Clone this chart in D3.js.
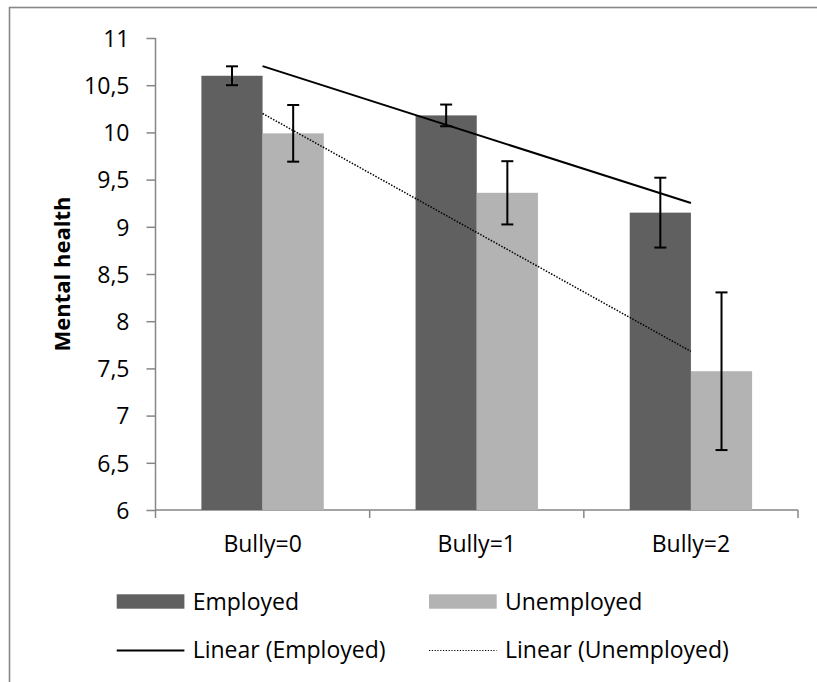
<!DOCTYPE html>
<html>
<head>
<meta charset="utf-8">
<script src="https://cdn.jsdelivr.net/npm/d3@7"></script>
<style>
  html, body { margin: 0; padding: 0; background: #fff; }
  svg { display: block; font-family: "Open Sans", "Noto Sans", sans-serif; }
</style>
</head>
<body>
<svg id="chart" width="817" height="682"></svg>
<script>
// ---- data ----
const categories = ["Bully=0", "Bully=1", "Bully=2"];
const seriesNames = ["Employed", "Unemployed"];
const employed = [10.60, 10.18, 9.15];
const unemployed = [9.99, 9.36, 7.47];
const errEmployed = [0.10, 0.115, 0.37];
const errUnemployed = [0.30, 0.335, 0.835];
const yTicks = [6, 6.5, 7, 7.5, 8, 8.5, 9, 9.5, 10, 10.5, 11];
const yTitle = "Mental health";
const trendNames = ["Linear (Employed)", "Linear (Unemployed)"];

(function () {
const colors = { Employed: "#606060", Unemployed: "#b3b3b3" };
const axisColor = "#868686";

const svg = d3.select("#chart");

// outer frame
svg.append("rect")
  .attr("x", 9.5).attr("y", 7.5)
  .attr("width", 1000).attr("height", 1000)
  .attr("fill", "none").attr("stroke", "#888").attr("stroke-width", 1.6);

const pL = 155.5, pR = 798, pT = 38, pB = 510;

const x = d3.scaleBand().domain(categories).range([pL, pR]).padding(0);
const xs = d3.scaleBand().domain(seriesNames).range([0, x.bandwidth()])
  .paddingInner(0).paddingOuter(0.75);
const y = d3.scaleLinear().domain([6, 11]).range([pB, pT]);

const fmt = d => Number.isInteger(d) ? String(d) : String(d).replace(".", ",");

// y axis
const yAxis = svg.append("g")
  .attr("transform", `translate(${pL},0)`)
  .call(d3.axisLeft(y).tickValues(yTicks).tickSize(9).tickPadding(17).tickFormat(fmt));
yAxis.select(".domain").attr("stroke", axisColor).attr("stroke-width", 1.5)
  .attr("d", `M0,${pT}V${pB}`);
yAxis.selectAll(".tick line").attr("stroke", axisColor).attr("stroke-width", 1.5);
yAxis.selectAll(".tick text").attr("font-size", 23).attr("fill", "#000")
  .attr("font-family", "'Open Sans', sans-serif").attr("dy", "0.36em");

// x axis
const xAxis = svg.append("g")
  .attr("transform", `translate(0,${pB})`)
  .call(d3.axisBottom(x).tickSize(0).tickPadding(26));
xAxis.select(".domain").attr("stroke", axisColor).attr("stroke-width", 1.5)
  .attr("d", `M${pL},0H${pR}`);
xAxis.selectAll(".tick text").attr("font-size", 23).attr("fill", "#000")
  .attr("font-family", "'Open Sans', sans-serif").attr("dy", "0.71em");
const boundaries = categories.map(c => x(c)).concat([x(categories[categories.length - 1]) + x.bandwidth()]);
xAxis.selectAll(".bnd").data(boundaries).enter().append("line")
  .attr("class", "bnd")
  .attr("x1", d => d).attr("x2", d => d)
  .attr("y1", 0).attr("y2", 8)
  .attr("stroke", axisColor).attr("stroke-width", 1.5);

// bars
const seriesData = [
  { name: "Employed", values: employed, errs: errEmployed },
  { name: "Unemployed", values: unemployed, errs: errUnemployed }
];

const gBars = svg.append("g");
seriesData.forEach(s => {
  gBars.selectAll(null).data(categories).enter().append("rect")
    .attr("x", c => x(c) + xs(s.name))
    .attr("width", xs.bandwidth())
    .attr("y", (c, i) => y(s.values[i]))
    .attr("height", (c, i) => pB - y(s.values[i]))
    .attr("fill", colors[s.name]);
});

// trend lines (least squares over category index 1..n)
function linFit(vals) {
  const n = vals.length;
  const xi = d3.range(1, n + 1);
  const mx = d3.mean(xi), my = d3.mean(vals);
  const b = d3.sum(xi, (v, i) => (v - mx) * (vals[i] - my)) / d3.sum(xi, v => (v - mx) ** 2);
  const a = my - b * mx;
  return t => a + b * t;
}
const cx = c => x(c) + x.bandwidth() / 2;
seriesData.forEach((s, si) => {
  const f = linFit(s.values);
  const first = categories[0], last = categories[categories.length - 1];
  svg.append("line")
    .attr("x1", cx(first)).attr("y1", y(f(1)))
    .attr("x2", cx(last)).attr("y2", y(f(categories.length)))
    .attr("stroke", "#000")
    .attr("stroke-width", si === 0 ? 2 : 1.5)
    .attr("stroke-dasharray", si === 0 ? null : "1.5,1.5");
});

// error bars
const gErr = svg.append("g").attr("stroke", "#000").attr("stroke-width", 2);
seriesData.forEach(s => {
  categories.forEach((c, i) => {
    const xc = x(c) + xs(s.name) + xs.bandwidth() / 2;
    const hi = y(s.values[i] + s.errs[i]);
    const lo = y(s.values[i] - s.errs[i]);
    gErr.append("line").attr("x1", xc).attr("x2", xc).attr("y1", hi).attr("y2", lo);
    gErr.append("line").attr("x1", xc - 6).attr("x2", xc + 6).attr("y1", hi).attr("y2", hi);
    gErr.append("line").attr("x1", xc - 6).attr("x2", xc + 6).attr("y1", lo).attr("y2", lo);
  });
});

// y title
svg.append("text")
  .attr("transform", `translate(70,${(pT + pB) / 2}) rotate(-90)`)
  .attr("text-anchor", "middle")
  .attr("font-size", 22).attr("font-weight", "bold").attr("fill", "#000")
  .text(yTitle);

// legend
const legX = [116.7, 429];
const rowY = [601.5, 650.5];
seriesNames.forEach((name, i) => {
  svg.append("rect")
    .attr("x", legX[i]).attr("y", rowY[0] - 7.2)
    .attr("width", 67.7).attr("height", 14.4)
    .attr("fill", colors[name]);
  svg.append("text")
    .attr("x", legX[i] + 76).attr("y", rowY[0] + 8)
    .attr("font-size", 23).attr("fill", "#000")
    .text(name);
});
trendNames.forEach((name, i) => {
  svg.append("line")
    .attr("x1", legX[i]).attr("x2", legX[i] + 67.7)
    .attr("y1", rowY[1]).attr("y2", rowY[1])
    .attr("stroke", "#000")
    .attr("stroke-width", i === 0 ? 2 : 1.2)
    .attr("stroke-dasharray", i === 0 ? null : "1.2,1.6");
  svg.append("text")
    .attr("x", legX[i] + 76).attr("y", rowY[1] + 7.5)
    .attr("font-size", 23).attr("fill", "#000")
    .text(name);
});
})();
</script>
</body>
</html>
